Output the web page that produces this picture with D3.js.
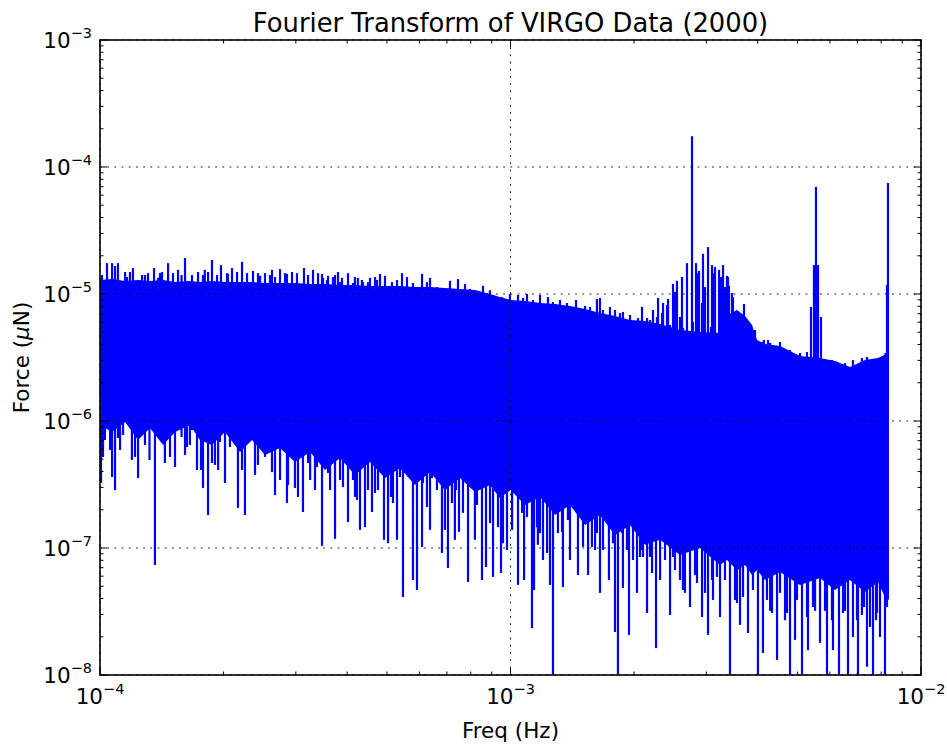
<!DOCTYPE html>
<html>
<head>
<meta charset="utf-8">
<script src="https://cdn.jsdelivr.net/npm/d3@7"></script>
<style>
  body { margin: 0; background: #fff; }
  text { font-family: "DejaVu Sans", sans-serif; fill: #000; }
</style>
</head>
<body>
<script>
'use strict';

// dense part of the spectrum: upper and lower edge of the solid band
let bandFreq = [1.000e-4, 1.070e-4, 1.151e-4, 1.238e-4, 1.324e-4, 1.424e-4, 1.523e-4, 1.657e-4,
  1.751e-4, 1.874e-4, 2.016e-4, 2.193e-4, 2.346e-4, 2.523e-4, 2.745e-4, 2.985e-4, 3.25e-4,
  3.533e-4, 3.843e-4, 4.18e-4, 4.547e-4, 4.946e-4, 5.38e-4, 5.852e-4, 6.367e-4, 6.923e-4,
  7.534e-4, 8.195e-4, 8.915e-4, 9.42e-4, 1.0e-3, 1.085e-3, 1.18e-3, 1.284e-3, 1.396e-3,
  1.519e-3, 1.652e-3, 1.797e-3, 1.955e-3, 2.126e-3, 2.314e-3, 2.587e-3, 2.895e-3, 3.239e-3,
  3.368e-3, 3.562e-3, 3.727e-3, 3.876e-3, 3.986e-3, 4.169e-3, 4.535e-3, 5.072e-3, 5.675e-3,
  6.17e-3, 6.714e-3, 7.304e-3, 7.857e-3, 8.126e-3, 8.356e-3];
let bandTop = [1.288e-5, 1.312e-5, 1.265e-5, 1.288e-5, 1.265e-5, 1.288e-5, 1.242e-5, 1.265e-5,
  1.242e-5, 1.265e-5, 1.242e-5, 1.242e-5, 1.242e-5, 1.222e-5, 1.222e-5, 1.222e-5, 1.20e-5,
  1.20e-5, 1.178e-5, 1.178e-5, 1.156e-5, 1.156e-5, 1.156e-5, 1.135e-5, 1.135e-5, 1.114e-5,
  1.094e-5, 1.074e-5, 1.0e-5, 9.46e-6, 8.97e-6, 8.81e-6, 8.49e-6, 8.34e-6, 8.05e-6,
  7.62e-6, 7.08e-6, 6.71e-6, 6.24e-6, 6.13e-6, 5.81e-6, 5.21e-6, 5.02e-6, 4.93e-6,
  6.84e-6, 7.48e-6, 6.71e-6, 5.70e-6, 4.34e-6, 4.04e-6, 3.90e-6, 3.25e-6, 3.13e-6,
  2.97e-6, 2.66e-6, 3.02e-6, 3.13e-6, 3.31e-6, 3.43e-6];
let bandBottom = [9.31e-7, 8.2e-7, 9.82e-7, 7.08e-7, 8.81e-7, 6.47e-7, 8.2e-7, 9.31e-7,
  7.08e-7, 6.47e-7, 8.2e-7, 5.70e-7, 7.08e-7, 5.40e-7, 6.13e-7, 4.75e-7, 5.70e-7,
  4.11e-7, 5.11e-7, 3.76e-7, 4.75e-7, 3.56e-7, 4.27e-7, 3.13e-7, 3.96e-7, 2.86e-7,
  3.56e-7, 2.76e-7, 3.13e-7, 2.48e-7, 2.86e-7, 2.18e-7, 2.52e-7, 1.82e-7, 2.18e-7,
  1.52e-7, 1.82e-7, 1.26e-7, 1.52e-7, 1.06e-7, 1.16e-7, 8.81e-8, 1.0e-7, 7.35e-8,
  8.05e-8, 6.71e-8, 7.35e-8, 6.12e-8, 6.71e-8, 5.60e-8, 6.47e-8, 5.12e-8, 5.81e-8,
  4.67e-8, 5.60e-8, 4.51e-8, 5.40e-8, 4.27e-8, 3.9e-8];

// narrow peaks above the band
let peakFreq = [1.040e-4, 1.070e-4, 1.106e-4, 1.151e-4, 1.203e-4, 1.287e-4, 1.354e-4, 1.40e-4,
  1.465e-4, 1.549e-4, 1.611e-4, 1.675e-4, 1.733e-4, 1.80e-4, 1.874e-4, 1.971e-4, 2.05e-4,
  2.097e-4, 2.218e-4, 2.359e-4, 2.455e-4, 2.523e-4, 2.624e-4, 2.745e-4, 2.854e-4, 2.936e-4,
  3.140e-4, 3.303e-4, 3.474e-4, 3.593e-4, 3.695e-4, 3.80e-4, 4.019e-4, 4.25e-4, 4.372e-4,
  4.496e-4, 4.809e-4, 4.946e-4, 5.441e-4, 5.595e-4, 6.088e-4, 6.367e-4, 7.121e-4, 7.448e-4,
  7.749e-4, 8.570e-4, 8.91e-4, 9.97e-4, 1.043e-3, 1.097e-3, 1.180e-3, 1.234e-3, 1.32e-3,
  1.444e-3, 1.519e-3, 1.624e-3, 1.652e-3, 1.797e-3, 1.879e-3, 2.045e-3, 2.091e-3, 2.224e-3,
  2.288e-3, 2.353e-3, 2.420e-3, 2.488e-3, 2.544e-3, 2.617e-3, 2.691e-3, 2.768e-3, 2.831e-3,
  2.879e-3, 2.944e-3, 3.028e-3, 3.097e-3, 3.149e-3, 3.221e-3, 3.294e-3, 3.368e-3, 3.406e-3,
  3.483e-3, 3.705e-3, 4.144e-3, 4.240e-3, 4.535e-3, 5.395e-3, 5.486e-3, 5.548e-3, 5.611e-3,
  5.706e-3, 8.263e-3, 8.309e-3,
  1.011e-4, 1.088e-4, 1.164e-4, 1.183e-4, 1.266e-4, 1.309e-4, 1.385e-4, 1.416e-4, 1.506e-4,
  1.58e-4, 1.782e-4, 1.833e-4, 1.928e-4, 2.039e-4, 2.157e-4, 2.281e-4, 2.426e-4, 2.595e-4,
  2.669e-4, 2.823e-4, 3.019e-4, 3.212e-4, 3.397e-4, 3.494e-4, 3.737e-4, 3.886e-4, 4.18e-4,
  4.345e-4, 4.677e-4,
  3.573e-4, 3.843e-4, 4.133e-4, 4.547e-4, 4.73e-4, 5.144e-4, 5.291e-4, 5.786e-4, 6.259e-4,
  6.62e-4, 6.85e-4, 7.244e-4, 7.967e-4, 8.287e-4, 8.767e-4, 9.066e-4, 9.535e-4, 1.073e-3,
  1.135e-3, 1.269e-3, 1.373e-3, 1.562e-3, 1.68e-3, 1.747e-3, 1.848e-3, 1.955e-3,
  2.151e-3, 2.187e-3, 2.274e-3, 2.34e-3, 2.406e-3, 2.447e-3, 2.516e-3, 2.587e-3, 2.632e-3,
  2.783e-3, 2.847e-3, 2.928e-3, 2.977e-3, 3.079e-3, 3.131e-3, 3.184e-3, 3.257e-3, 3.33e-3,
  3.387e-3, 3.464e-3, 3.583e-3, 3.685e-3, 3.941e-3, 4.099e-3, 4.29e-3, 4.46e-3, 4.796e-3,
  5.072e-3, 5.276e-3, 6.069e-3, 6.243e-3, 6.53e-3, 6.828e-3, 7.18e-3, 7.386e-3, 7.64e-3,
  8.195e-3];
let peakVal = [1.75e-5, 1.75e-5, 1.75e-5, 1.49e-5, 1.60e-5, 1.41e-5, 1.60e-5, 1.46e-5,
  1.75e-5, 1.55e-5, 1.92e-5, 1.41e-5, 1.49e-5, 1.55e-5, 1.85e-5, 1.69e-5, 1.44e-5,
  1.60e-5, 1.79e-5, 1.52e-5, 1.39e-5, 1.46e-5, 1.55e-5, 1.57e-5, 1.44e-5, 1.49e-5,
  1.60e-5, 1.55e-5, 1.44e-5, 1.39e-5, 1.36e-5, 1.49e-5, 1.46e-5, 1.34e-5, 1.24e-5,
  1.24e-5, 1.44e-5, 1.39e-5, 1.46e-5, 1.36e-5, 1.44e-5, 1.34e-5, 1.27e-5, 1.31e-5,
  1.20e-5, 1.16e-5, 1.07e-5, 1.0e-5, 9.82e-6, 1.0e-5, 9.82e-6, 9.46e-6, 8.97e-6,
  8.97e-6, 8.05e-6, 9.14e-6, 9.31e-6, 7.48e-6, 7.21e-6, 6.47e-6, 7.91e-6, 7.48e-6,
  9.31e-6, 8.49e-6, 9.14e-6, 1.20e-5, 1.27e-5, 1.36e-5, 1.75e-5, 1.75e-4, 1.75e-5,
  1.52e-5, 2.07e-5, 2.34e-5, 1.69e-5, 1.63e-5, 1.55e-5, 1.69e-5, 1.39e-5, 1.16e-5,
  9.46e-6, 8.34e-6, 4.34e-6, 4.34e-6, 4.19e-6, 7.91e-6, 1.69e-5, 6.97e-5, 1.69e-5,
  6.59e-6, 1.18e-5, 7.48e-5,
  1.41e-5, 1.66e-5, 1.36e-5, 1.49e-5, 1.41e-5, 1.46e-5, 1.34e-5, 1.49e-5, 1.46e-5,
  1.41e-5, 1.41e-5, 1.49e-5, 1.41e-5, 1.46e-5, 1.49e-5, 1.46e-5, 1.46e-5, 1.41e-5,
  1.36e-5, 1.46e-5, 1.46e-5, 1.41e-5, 1.46e-5, 1.34e-5, 1.41e-5, 1.34e-5, 1.36e-5,
  1.29e-5, 1.36e-5,
  1.29e-5, 1.24e-5, 1.22e-5, 1.34e-5, 1.29e-5, 1.24e-5, 1.29e-5, 1.22e-5, 1.24e-5,
  1.135e-5, 1.114e-5, 1.074e-5, 1.094e-5, 1.04e-5, 1.018e-5, 9.82e-6, 9.46e-6, 9.31e-6,
  8.97e-6, 8.65e-6, 8.49e-6, 7.91e-6, 7.48e-6, 7.91e-6, 7.08e-6, 6.84e-6,
  6.47e-6, 6.24e-6, 6.59e-6, 7.08e-6, 8.2e-6, 5.70e-6, 1.04e-5, 6.59e-6, 5.40e-6,
  6.03e-6, 1.46e-5, 8.49e-6, 1.135e-5, 5.5e-6, 1.46e-5, 4.93e-6, 1.36e-5, 1.135e-5,
  1.36e-5, 1.018e-5, 7.08e-6, 6.24e-6, 5.21e-6, 4.19e-6, 4.12e-6, 3.83e-6, 3.62e-6,
  3.43e-6, 3.49e-6, 3.02e-6, 2.92e-6, 2.86e-6, 3.02e-6, 3.13e-6, 3.19e-6, 3.08e-6,
  3.43e-6];

// narrow dips below the band
let dipFreq = [1.028e-4, 1.070e-4, 1.088e-4, 1.119e-4, 1.196e-4, 1.238e-4, 1.287e-4, 1.361e-4,
  1.439e-4, 1.523e-4, 1.611e-4, 1.656e-4, 1.723e-4, 1.782e-4, 1.833e-4, 1.874e-4, 1.94e-4,
  2.016e-4, 2.168e-4, 2.255e-4, 2.386e-4, 2.669e-4, 2.854e-4, 3.036e-4, 3.122e-4, 3.25e-4,
  3.34e-4, 3.474e-4, 3.634e-4, 3.737e-4, 4.019e-4, 4.18e-4, 4.299e-4, 4.421e-4, 4.598e-4,
  4.756e-4, 4.918e-4, 5.031e-4, 5.291e-4, 5.471e-4, 5.786e-4, 5.918e-4, 6.088e-4, 6.367e-4,
  6.808e-4, 7.041e-4, 7.32e-4, 7.490e-4, 7.880e-4, 8.19e-4, 8.522e-4, 8.716e-4, 9.066e-4,
  9.482e-4, 9.806e-4, 1.043e-3, 1.079e-3, 1.128e-3, 1.141e-3, 1.166e-3, 1.200e-3, 1.248e-3,
  1.269e-3, 1.342e-3, 1.396e-3, 1.460e-3, 1.545e-3, 1.607e-3, 1.652e-3, 1.737e-3, 1.797e-3,
  1.827e-3, 1.879e-3, 1.944e-3, 2.033e-3, 2.068e-3, 2.151e-3, 2.262e-3, 2.314e-3, 2.447e-3,
  2.516e-3, 2.63e-3, 2.737e-3, 2.815e-3, 2.928e-3, 3.028e-3, 3.114e-3, 3.239e-3, 3.425e-3,
  3.523e-3, 3.623e-3, 3.789e-3, 4.007e-3, 4.121e-3, 4.29e-3, 4.460e-3, 4.664e-3, 4.796e-3,
  4.933e-3, 5.130e-3, 5.305e-3, 5.52e-3, 5.675e-3, 5.902e-3, 6.103e-3, 6.313e-3, 6.53e-3,
  6.640e-3, 6.828e-3, 7.023e-3, 7.18e-3, 7.386e-3, 7.640e-3, 7.77e-3, 7.945e-3, 8.171e-3,
  1.006e-4, 1.017e-4, 1.058e-4, 1.106e-4, 1.138e-4, 1.217e-4, 1.302e-4, 1.32e-4, 1.40e-4,
  1.481e-4, 1.58e-4, 1.629e-4, 1.675e-4, 1.762e-4, 1.906e-4, 1.96e-4, 2.073e-4, 2.12e-4,
  2.218e-4, 2.346e-4, 2.426e-4, 2.523e-4, 2.624e-4, 2.745e-4, 2.871e-4, 2.985e-4, 3.212e-4,
  3.377e-4, 3.593e-4, 3.843e-4, 3.908e-4, 4.133e-4, 4.227e-4, 4.496e-4, 4.677e-4, 4.809e-4,
  5.115e-4, 5.173e-4, 5.38e-4, 5.657e-4, 5.754e-4, 6.12e-4, 6.259e-4, 6.437e-4, 6.62e-4,
  6.923e-4, 7.2e-4, 7.365e-4, 7.66e-4, 7.967e-4, 8.287e-4, 8.915e-4, 9.323e-4, 9.587e-4,
  1.009e-3, 1.067e-3, 1.097e-3, 1.160e-3, 1.18e-3, 1.228e-3, 1.305e-3, 1.335e-3, 1.38e-3,
  1.42e-3, 1.502e-3, 1.579e-3, 1.624e-3, 1.68e-3, 1.777e-3, 1.869e-3, 1.922e-3, 1.988e-3,
  2.091e-3, 2.187e-3, 2.274e-3,
  2.103e-3, 2.212e-3, 2.379e-3, 2.488e-3, 2.587e-3, 2.661e-3, 2.847e-3, 2.977e-3, 3.097e-3,
  3.184e-3, 3.33e-3, 3.562e-3, 3.685e-3, 3.897e-3, 4.215e-3, 4.335e-3, 4.535e-3, 4.716e-3,
  4.988e-3, 5.276e-3, 5.456e-3, 5.836e-3, 6.069e-3, 6.457e-3, 6.984e-3, 7.264e-3, 7.512e-3,
  7.813e-3, 8.263e-3];
let dipVal = [7.08e-7, 3.62e-7, 2.86e-7, 5.92e-7, 4.93e-7, 3.56e-7, 6.47e-7, 7.35e-8,
  4.67e-7, 4.34e-7, 5.40e-7, 6.47e-7, 4.11e-7, 2.97e-7, 1.82e-7, 4.67e-7, 4.11e-7,
  3.25e-7, 2.07e-7, 1.82e-7, 3.76e-7, 2.61e-7, 2.26e-7, 2.52e-7, 1.92e-7, 3.43e-7,
  2.86e-7, 1.04e-7, 2.86e-7, 1.18e-7, 1.60e-7, 2.52e-7, 1.39e-7, 1.46e-7, 1.92e-7,
  2.86e-7, 1.16e-7, 1.09e-7, 1.16e-7, 4.11e-8, 5.60e-8, 4.67e-8, 1.02e-7, 1.39e-7,
  9.14e-8, 6.97e-8, 1.16e-7, 1.34e-7, 5.40e-8, 1.16e-7, 5.60e-8, 7.08e-8, 5.92e-8,
  6.36e-8, 9.64e-8, 5.12e-8, 5.60e-8, 2.34e-8, 4.67e-8, 1.06e-7, 8.05e-8, 5.12e-8,
  8e-9, 4.93e-8, 8.05e-8, 6.12e-8, 6.12e-8, 9.64e-8, 4.43e-8, 5.60e-8, 2.18e-8,
  8e-9, 4.84e-8, 2.07e-8, 4.43e-8, 8.49e-8, 3.08e-8, 1.63e-8, 5.60e-8, 2.97e-8,
  6.71e-8, 4.67e-8, 3.43e-8, 6.12e-8, 2.86e-8, 2.07e-8, 3.9e-8, 2.86e-8, 8e-9,
  3.9e-8, 2.48e-8, 2.14e-8, 8e-9, 1.49e-8, 3.2e-8, 1.31e-8, 2.7e-8, 8e-9,
  1.89e-8, 8e-9, 1.57e-8, 3.2e-8, 1.79e-8, 8e-9, 1.57e-8, 8e-9, 3.2e-8,
  8e-9, 1.99e-8, 8e-9, 2.97e-8, 1.16e-8, 8e-9, 2.7e-8, 1.99e-8, 8e-9,
  3.25e-7, 5.21e-7, 5.92e-7, 7.35e-7, 7.76e-7, 5.21e-7, 8.49e-7, 4.93e-7, 8.49e-7,
  5.21e-7, 7.48e-7, 6.24e-7, 8.49e-7, 4.11e-7, 4.51e-7, 6.84e-7, 6.24e-7, 8.97e-7,
  4.11e-7, 7.08e-7, 4.51e-7, 5.21e-7, 3.96e-7, 3.43e-7, 3.13e-7, 2.97e-7, 4.67e-7,
  4.34e-7, 3.9e-7, 3.43e-7, 3.02e-7, 3.43e-7, 2.39e-7, 2.86e-7, 2.71e-7, 4.67e-7,
  2.52e-7, 2.26e-7, 3.62e-7, 3.62e-7, 5.40e-7, 3.25e-7, 2.10e-7, 3.56e-7, 2.86e-7,
  1.39e-7, 2.26e-7, 2.86e-7, 1.89e-7, 3.25e-7, 2.18e-7, 1.57e-7, 1.46e-7, 1.09e-7,
  1.39e-7, 1.89e-7, 1.75e-7, 1.46e-7, 1.31e-7, 9.14e-8, 1.31e-7, 1.34e-7, 1.66e-7,
  2.07e-7, 1.02e-7, 1.02e-7, 1.31e-7, 9.64e-8, 1.09e-7, 1.31e-7, 9.64e-8, 8.05e-8,
  9.64e-8, 8.49e-8, 1.16e-7,
  8.49e-8, 6.36e-8, 8.05e-8, 8.49e-8, 5.60e-8, 4.43e-8, 5.30e-8, 4.43e-8, 5.60e-8,
  5.92e-8, 5.60e-8, 3.69e-8, 4.11e-8, 4.67e-8, 3.9e-8, 3.08e-8, 4.43e-8, 3.08e-8,
  3.9e-8, 2.86e-8, 3.43e-8, 3.2e-8, 2.7e-8, 3.08e-8, 2.7e-8, 3.43e-8, 2.39e-8,
  3.08e-8, 3.43e-8];

// every spike is drawn from this level, which lies inside the band
let spikeBase = 1.5e-6;

// major ticks and their labels
let xTicks = [1e-4, 1e-3, 1e-2];
let xTickExp = ["\u22124", "\u22123", "\u22122"];
let yTicks = [1e-8, 1e-7, 1e-6, 1e-5, 1e-4, 1e-3];
let yTickExp = ["\u22128", "\u22127", "\u22126", "\u22125", "\u22124", "\u22123"];

let plotLeft = 100, plotRight = 921, plotTop = 40, plotBottom = 675;
let blue = "#0000ff";

let svg = d3.select('body')
  .append('svg')
  .attr('width', 947)
  .attr('height', 746);

let xScale = d3.scaleLog().domain([1e-4, 1e-2]).range([plotLeft, plotRight]);
let yScale = d3.scaleLog().domain([1e-8, 1e-3]).range([plotBottom, plotTop]);

svg.append('defs').append('clipPath')
  .attr('id', 'plotClip')
  .append('rect')
  .attr('x', plotLeft)
  .attr('y', plotTop)
  .attr('width', plotRight - plotLeft)
  .attr('height', plotBottom - plotTop);

let plot = svg.append('g').attr('clip-path', 'url(#plotClip)');

// solid band
let band = bandFreq.map((f, i) => ({ f: f, top: bandTop[i], bottom: bandBottom[i] }));
let area = d3.area()
  .x(d => xScale(d.f))
  .y0(d => yScale(d.bottom))
  .y1(d => yScale(d.top));
plot.append('path')
  .datum(band)
  .attr('d', area)
  .attr('fill', blue);

// peaks and dips
let spikes = peakFreq.map((f, i) => ({ f: f, v: peakVal[i] }))
  .concat(dipFreq.map((f, i) => ({ f: f, v: dipVal[i] })));
plot.selectAll('.spike')
  .data(spikes)
  .enter()
  .append('line')
  .attr('class', 'spike')
  .attr('x1', d => xScale(d.f))
  .attr('x2', d => xScale(d.f))
  .attr('y1', yScale(spikeBase))
  .attr('y2', d => yScale(d.v))
  .attr('stroke', blue)
  .attr('stroke-width', 2.2);

// dotted grid on top of the data
svg.selectAll('.xgrid')
  .data(xTicks)
  .enter()
  .append('line')
  .attr('x1', d => xScale(d))
  .attr('x2', d => xScale(d))
  .attr('y1', plotTop)
  .attr('y2', plotBottom)
  .attr('stroke', '#000')
  .attr('stroke-width', 0.9)
  .attr('stroke-dasharray', '1.8,5.4');
svg.selectAll('.ygrid')
  .data(yTicks)
  .enter()
  .append('line')
  .attr('x1', plotLeft)
  .attr('x2', plotRight)
  .attr('y1', d => yScale(d))
  .attr('y2', d => yScale(d))
  .attr('stroke', '#000')
  .attr('stroke-width', 0.9)
  .attr('stroke-dasharray', '1.8,5.4');

// ticks pointing inwards on all four sides
function isMajor(t, majors) {
  return majors.some(m => Math.abs(m - t) / m < 1e-6);
}
let ticks = svg.append('g').attr('stroke', '#000').attr('stroke-width', 1);
xScale.ticks().forEach(t => {
  let len = isMajor(t, xTicks) ? 7 : 3.5;
  let x = xScale(t);
  ticks.append('line').attr('x1', x).attr('x2', x).attr('y1', plotBottom).attr('y2', plotBottom - len);
  ticks.append('line').attr('x1', x).attr('x2', x).attr('y1', plotTop).attr('y2', plotTop + len);
});
yScale.ticks().forEach(t => {
  let len = isMajor(t, yTicks) ? 7 : 3.5;
  let y = yScale(t);
  ticks.append('line').attr('x1', plotLeft).attr('x2', plotLeft + len).attr('y1', y).attr('y2', y);
  ticks.append('line').attr('x1', plotRight).attr('x2', plotRight - len).attr('y1', y).attr('y2', y);
});

// frame
svg.append('rect')
  .attr('x', plotLeft)
  .attr('y', plotTop)
  .attr('width', plotRight - plotLeft)
  .attr('height', plotBottom - plotTop)
  .attr('fill', 'none')
  .attr('stroke', '#000')
  .attr('stroke-width', 1.6);

// tick labels, written as 10 with a raised exponent
svg.selectAll('.xlab')
  .data(xTicks)
  .enter()
  .append('text')
  .attr('x', d => xScale(d))
  .attr('y', 704)
  .attr('text-anchor', 'middle')
  .style('font-size', '21.5px')
  .each(function(d, i) {
    let t = d3.select(this);
    t.append('tspan').text('10');
    t.append('tspan').attr('dy', -10).style('font-size', '14.5px').text(xTickExp[i]);
  });

svg.selectAll('.ylab')
  .data(yTicks)
  .enter()
  .append('text')
  .attr('x', 92)
  .attr('y', d => yScale(d) + 8)
  .attr('text-anchor', 'end')
  .style('font-size', '21.5px')
  .each(function(d, i) {
    let t = d3.select(this);
    t.append('tspan').text('10');
    t.append('tspan').attr('dy', -10).style('font-size', '14.5px').text(yTickExp[i]);
  });

// title and axis labels
svg.append('text')
  .attr('x', (plotLeft + plotRight) / 2)
  .attr('y', 32)
  .attr('text-anchor', 'middle')
  .style('font-size', '25.8px')
  .text('Fourier Transform of VIRGO Data (2000)');

svg.append('text')
  .attr('x', (plotLeft + plotRight) / 2)
  .attr('y', 738)
  .attr('text-anchor', 'middle')
  .style('font-size', '21.5px')
  .text('Freq (Hz)');

let yLabel = svg.append('text')
  .attr('transform', 'translate(29,' + ((plotTop + plotBottom) / 2) + ')rotate(-90)')
  .attr('text-anchor', 'middle')
  .style('font-size', '21.5px');
yLabel.append('tspan').text('Force (');
yLabel.append('tspan').style('font-style', 'italic').text('\u03bc');
yLabel.append('tspan').text('N)');
</script>
</body>
</html>
